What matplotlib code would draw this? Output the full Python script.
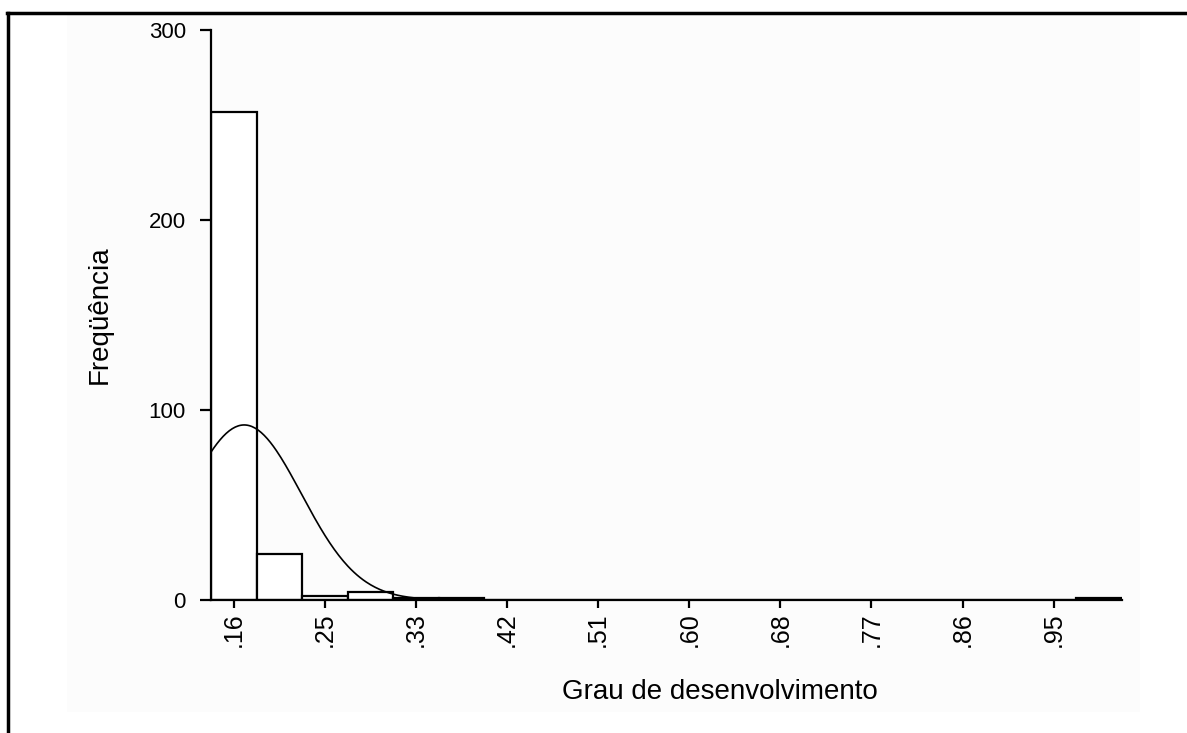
import numpy as np
import matplotlib.pyplot as plt
from matplotlib.lines import Line2D
from matplotlib.patches import Rectangle

# histogram of "Grau de desenvolvimento" (20 equal bins)
BIN_START = 0.1361
BIN_WIDTH = 0.0438
COUNTS = [257, 24, 2, 4, 1, 1, 0, 0, 0, 0,
          0, 0, 0, 0, 0, 0, 0, 0, 0, 1]

# fitted normal curve
NORMAL_MEAN = 0.168
NORMAL_SD = 0.055

TICK_LABELS = [".16", ".25", ".33", ".42", ".51", ".60", ".68", ".77", ".86", ".95"]
Y_TICKS = [0, 100, 200, 300]

FONT = "Liberation Sans"
W, H = 1187, 733


def main():
    fig = plt.figure(figsize=(W / 100, H / 100), dpi=100)
    fig.patch.set_facecolor("white")

    # faint grey canvas of the chart window
    fig.add_artist(Rectangle((67 / W, 1 - 712 / H), (1140 - 67) / W, (712 - 13) / H,
                             transform=fig.transFigure, facecolor="#fcfcfc",
                             edgecolor="none", zorder=0))

    ax = fig.add_axes([211 / W, 1 - 600 / H, 911 / W, 570 / H])
    ax.set_facecolor("none")

    n_bins = len(COUNTS)
    edges = BIN_START + BIN_WIDTH * np.arange(n_bins + 1)
    centers = edges[:-1] + BIN_WIDTH / 2

    ax.bar(edges[:-1], COUNTS, width=BIN_WIDTH, align="edge",
           facecolor="white", edgecolor="black", linewidth=1.6, zorder=2)

    # normal curve scaled to the histogram
    n_total = sum(COUNTS)
    xs = np.linspace(edges[0], edges[-1], 600)
    ys = (n_total * BIN_WIDTH / (NORMAL_SD * np.sqrt(2 * np.pi))
          * np.exp(-0.5 * ((xs - NORMAL_MEAN) / NORMAL_SD) ** 2))
    ax.plot(xs, ys, color="black", linewidth=1.2, zorder=3)

    ax.set_xlim(edges[0], edges[-1])
    ax.set_ylim(0, 300)

    ax.set_xticks(centers[::2][:len(TICK_LABELS)])
    ax.set_xticklabels(TICK_LABELS, rotation=90, family=FONT, fontsize=18)
    ax.set_yticks(Y_TICKS)
    ax.set_yticklabels([str(v) for v in Y_TICKS], family=FONT, fontsize=16)

    ax.tick_params(axis="y", direction="out", length=8, width=1.6, pad=10)
    ax.tick_params(axis="x", direction="out", length=6, width=1.6, pad=3)

    for side in ["top", "right"]:
        ax.spines[side].set_visible(False)
    for side in ["left", "bottom"]:
        ax.spines[side].set_linewidth(1.6)

    fig.text(100 / W, 1 - 315 / H, "Freqüência", rotation=90,
             ha="center", va="center", family=FONT, fontsize=20)
    fig.text(720 / W, 1 - 692 / H, "Grau de desenvolvimento",
             ha="center", va="center", family=FONT, fontsize=20)

    # frame of the original screenshot
    fig.add_artist(Line2D([7 / W, 1.0], [1 - 13 / H, 1 - 13 / H],
                          color="black", linewidth=2.5))
    fig.add_artist(Line2D([8 / W, 8 / W], [0.0, 1 - 13 / H],
                          color="black", linewidth=2.5))

    fig.savefig("out.png", dpi=100)
    plt.close(fig)


if __name__ == "__main__":
    main()
